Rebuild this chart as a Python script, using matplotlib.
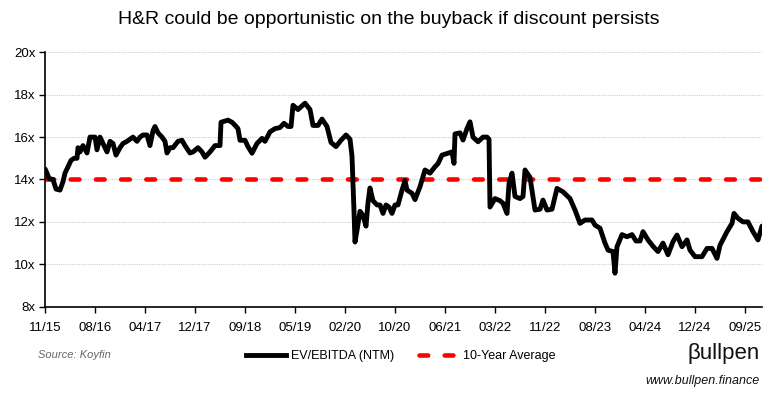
import matplotlib
matplotlib.use("Agg")
import matplotlib.pyplot as plt
from matplotlib.lines import Line2D

plt.rcParams['font.family'] = ['Liberation Sans', 'DejaVu Sans']

# x position in label-step units (0 = 11/15, 1 = 08/16, ... 14 = 09/25)
t = [0.00, 0.04, 0.08, 0.16, 0.22, 0.30, 0.36, 0.40, 0.46, 0.52, 0.58, 0.64, 0.66, 0.70, 0.76, 0.84,
     0.90, 1.00, 1.04, 1.10, 1.18, 1.24, 1.30, 1.36, 1.42, 1.50, 1.56, 1.64, 1.70, 1.76, 1.84, 1.90,
     1.96, 2.04, 2.10, 2.16, 2.20, 2.26, 2.34, 2.40, 2.44, 2.50, 2.56, 2.66, 2.74, 2.80, 2.90, 2.96,
     3.06, 3.14, 3.20, 3.30, 3.40, 3.50, 3.52, 3.66, 3.74, 3.80, 3.86, 3.90, 4.00, 4.06, 4.14, 4.24,
     4.34, 4.40, 4.50, 4.60, 4.70, 4.78, 4.86, 4.92, 4.96, 5.06, 5.20, 5.30, 5.36, 5.46, 5.54, 5.64,
     5.72, 5.82, 5.92, 6.02, 6.10, 6.14, 6.16, 6.18, 6.20, 6.24, 6.30, 6.36, 6.42, 6.46, 6.50, 6.56,
     6.64, 6.70, 6.76, 6.82, 6.88, 6.94, 7.00, 7.06, 7.14, 7.20, 7.24, 7.34, 7.40, 7.50, 7.60, 7.70,
     7.80, 7.86, 7.94, 8.06, 8.14, 8.18, 8.20, 8.30, 8.36, 8.44, 8.50, 8.56, 8.66, 8.76, 8.84, 8.88,
     8.90, 9.00, 9.10, 9.16, 9.24, 9.28, 9.34, 9.40, 9.50, 9.56, 9.60, 9.70, 9.80, 9.90, 9.96, 10.04,
     10.14, 10.24, 10.36, 10.50, 10.60, 10.70, 10.80, 10.94, 11.00, 11.10, 11.20, 11.26, 11.36, 11.40,
     11.44, 11.54, 11.64, 11.74, 11.82, 11.90, 11.96, 12.06, 12.16, 12.26, 12.36, 12.46, 12.56, 12.64,
     12.74, 12.84, 12.90, 13.00, 13.14, 13.24, 13.34, 13.44, 13.50, 13.64, 13.74, 13.78, 13.86, 13.96,
     14.06, 14.16, 14.26, 14.34]

ev_ebitda = [14.5, 14.3, 14.05, 14.0, 13.55, 13.5, 13.9, 14.3, 14.6, 14.9, 15.0, 15.0, 15.5, 15.3, 15.6, 15.25,
             16.0, 16.0, 15.4, 16.0, 15.6, 15.3, 15.8, 15.7, 15.15, 15.5, 15.7, 15.8, 15.9, 16.0, 15.8, 16.0,
             16.1, 16.1, 15.6, 16.3, 16.5, 16.2, 16.0, 15.8, 15.25, 15.5, 15.5, 15.8, 15.85, 15.6, 15.25, 15.3,
             15.5, 15.3, 15.05, 15.3, 15.6, 15.6, 16.7, 16.8, 16.7, 16.56, 16.4, 15.85, 15.85, 15.55, 15.24, 15.7,
             15.94, 15.8, 16.25, 16.4, 16.45, 16.65, 16.5, 16.5, 17.5, 17.3, 17.6, 17.3, 16.55, 16.55, 16.85, 16.5,
             15.75, 15.55, 15.85, 16.1, 15.9, 15.1, 13.8, 12.5, 11.05, 11.6, 12.5, 12.3, 11.8, 12.9, 13.6, 13.0,
             12.8, 12.8, 12.4, 12.8, 12.7, 12.4, 12.8, 12.8, 13.5, 13.95, 13.5, 13.35, 13.05, 13.66, 14.45, 14.3,
             14.6, 14.75, 15.15, 15.24, 15.3, 14.76, 16.15, 16.2, 15.86, 16.4, 16.72, 16.0, 15.78, 16.0, 16.0, 15.9,
             12.7, 13.1, 13.0, 12.88, 12.4, 13.8, 14.3, 13.2, 13.1, 13.2, 14.45, 14.1, 12.56, 12.6, 13.03, 12.56,
             12.6, 13.58, 13.42, 13.1, 12.56, 11.93, 12.09, 12.09, 11.85, 11.7, 11.0, 10.67, 10.6, 9.58,
             10.83, 11.4, 11.3, 11.4, 11.1, 11.1, 11.54, 11.15, 10.85, 10.6, 11.0, 10.45, 11.07, 11.38,
             10.83, 11.15, 10.67, 10.36, 10.36, 10.75, 10.75, 10.28, 10.9, 11.54, 11.93, 12.4, 12.17, 12.0,
             12.0, 11.54, 11.15, 11.8]

ten_year_avg = 14.0

x_labels = ['11/15', '08/16', '04/17', '12/17', '09/18', '05/19', '02/20', '10/20',
            '06/21', '03/22', '11/22', '08/23', '04/24', '12/24', '09/25']
y_ticks = [8, 10, 12, 14, 16, 18, 20]

fig = plt.figure(figsize=(7.78, 3.99), dpi=100)
ax = fig.add_axes([45 / 778, 1 - 306.7 / 399, 717 / 778, 254.4 / 399])

ax.plot(t, ev_ebitda, color='black', lw=3.5, solid_joinstyle='round', solid_capstyle='round', zorder=3)
ax.plot([t[0], t[-1]], [ten_year_avg, ten_year_avg], color='#ff0000', lw=3.3,
        dashes=(1.9, 3.6), dash_capstyle='round', zorder=2)

ax.set_xlim(t[0], t[-1])
ax.set_ylim(8, 20)
ax.set_yticks(y_ticks)
ax.set_yticklabels([f'{v}x' for v in y_ticks])
ax.set_xticks(range(len(x_labels)))
ax.set_xticklabels(x_labels)
ax.tick_params(axis='both', labelsize=9.5, color='black', length=4, width=1)
ax.tick_params(axis='x', pad=7)
ax.tick_params(axis='y', pad=3)
ax.grid(axis='y', color='#cfcfcf', linestyle=(0, (1, 1)), lw=0.8)
ax.set_axisbelow(True)
for side in ['top', 'right']:
    ax.spines[side].set_visible(False)
for side in ['left', 'bottom']:
    ax.spines[side].set_linewidth(1.2)

fig.text(0.5, 1 - 19 / 399, 'H&R could be opportunistic on the buyback if discount persists',
         ha='center', va='center', fontsize=14)

handles = [Line2D([], [], color='black', lw=3.5),
           Line2D([], [], color='#ff0000', lw=3.3, dashes=(1.9, 3.6), dash_capstyle='round')]
fig.legend(handles, ['EV/EBITDA (NTM)', '10-Year Average'], loc='center',
           bbox_to_anchor=(401 / 778, 1 - 356 / 399), ncol=2, frameon=False, fontsize=9,
           handlelength=3.2, columnspacing=2.0, handletextpad=0.35)

fig.text(38 / 778, 1 - 355 / 399, 'Source: Koyfin', fontsize=8, style='italic',
         color='#666666', ha='left', va='center')
fig.text(760 / 778, 1 - 354 / 399, 'βullpen', fontsize=16, ha='right', va='center', color='#111111')
fig.text(760 / 778, 1 - 381 / 399, 'www.bullpen.finance', fontsize=9, style='italic',
         ha='right', va='center', color='#111111')

fig.savefig('out.png', dpi=100)
